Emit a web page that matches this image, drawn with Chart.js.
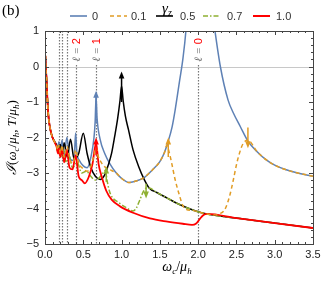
<!DOCTYPE html>
<html>
<head>
<meta charset="utf-8">
<script src="https://cdn.jsdelivr.net/npm/chart.js@4.4.0/dist/chart.umd.min.js"></script>
<style>
html, body { margin: 0; padding: 0; background: #fff; }
</style>
</head>
<body>
<canvas id="chart" width="325" height="285"></canvas>
<script>
// gamma_z series, legend order
const gammaLabels = ['0', '0.1', '0.5', '0.7', '1.0'];
const gammaColors = ['#5E81B5', '#E19C24', '#000000', '#8FB032', '#FF0000'];
const gammaDash = [[], [4, 3], [], [5, 2, 1.5, 2], []];
const drawOrder = [5, 1, 4, 3, 2];

// [omega_c/mu_h, I]
const curve0 = [[0.005,0.3],[0.01,0],[0.02,-0.35],[0.03,-0.85],[0.04,-1.25],[0.05,-1.5],[0.07,-1.78],[0.09,-1.95],[0.11,-2.05],[0.13,-2.12],[0.15,-2.2],
  [0.165,-2.3],[0.182,-2.12],[0.2,-2.4],[0.222,-2.08],[0.25,-2.5],[0.286,-2.0],[0.32,-2.55],[0.36,-2.65],[0.385,-2.45],[0.4,-1.87],[0.415,-2.4],
  [0.45,-2.65],[0.5,-2.8],[0.55,-2.85],[0.6,-2.55],[0.64,-2.0],[0.655,-1.55],[0.667,-0.85],[0.68,-1.45],[0.72,-2.05],[0.78,-2.45],[0.85,-2.75],
  [0.92,-2.97],[1.0,-3.15],[1.1,-3.27],[1.2,-3.22],[1.3,-3.12],[1.4,-2.92],[1.5,-2.68],[1.56,-2.42],[1.61,-2.1],[1.66,-1.7],[1.7,-1.22],
  [1.76,-0.37],[1.8,0.2],[1.84,1.0],[1.87,2.0],[2.16,2.0],[2.19,1.5],[2.22,1.0],[2.29,0],[2.39,-0.94],[2.46,-1.31],[2.55,-1.69],[2.65,-2.1],
  [2.77,-2.4],[2.89,-2.63],[3.0,-2.78],[3.15,-2.91],[3.3,-3.0],[3.5,-3.09]];
const curve01 = [[0.005,0.3],[0.01,0],[0.02,-0.35],[0.03,-0.85],[0.04,-1.25],[0.05,-1.5],[0.07,-1.78],[0.09,-1.95],[0.11,-2.06],[0.13,-2.14],[0.15,-2.22],
  [0.165,-2.35],[0.182,-2.22],[0.2,-2.45],[0.222,-2.22],[0.25,-2.55],[0.286,-2.25],[0.33,-2.65],[0.37,-2.72],[0.4,-2.35],[0.44,-2.72],[0.5,-2.88],
  [0.55,-2.95],[0.6,-2.8],[0.64,-2.5],[0.667,-2.28],[0.69,-2.5],[0.74,-2.72],[0.8,-2.86],[0.87,-2.93],[0.94,-3.02],[1.0,-3.15],[1.1,-3.27],
  [1.2,-3.22],[1.3,-3.12],[1.4,-2.92],[1.5,-2.68],[1.56,-2.42],[1.59,-2.22],[1.62,-2.4],[1.66,-2.78],[1.7,-3.19],[1.76,-3.66],[1.8,-3.92],
  [1.84,-4.02],[1.94,-4.06],[2.1,-4.15],[2.22,-4.18],[2.28,-4.15],[2.35,-4.02],[2.41,-3.66],[2.46,-3.19],[2.5,-2.77],[2.54,-2.44],[2.59,-2.16],
  [2.65,-2.08],[2.77,-2.4],[2.89,-2.63],[3.0,-2.78],[3.15,-2.91],[3.3,-3.0],[3.5,-3.09]];
const curve05 = [[0.005,0.3],[0.01,0],[0.02,-0.35],[0.03,-0.85],[0.04,-1.25],[0.05,-1.5],[0.07,-1.78],[0.09,-1.95],[0.11,-2.06],[0.13,-2.14],[0.15,-2.22],
  [0.17,-2.4],[0.2,-2.2],[0.225,-2.5],[0.25,-2.15],[0.29,-2.55],[0.333,-2.05],[0.38,-2.6],[0.44,-2.45],[0.5,-1.88],[0.55,-2.45],[0.6,-2.85],
  [0.66,-3.1],[0.72,-3.18],[0.78,-3.05],[0.83,-2.75],[0.87,-2.44],[0.91,-1.97],[0.95,-1.45],[0.98,-0.95],[1.0,-0.55],[1.02,-0.95],[1.05,-1.4],
  [1.09,-1.78],[1.15,-2.35],[1.22,-2.8],[1.3,-3.2],[1.36,-3.42],[1.46,-3.55],[1.59,-3.7],[1.75,-3.88],[1.94,-4.05],[2.1,-4.15],[2.5,-4.27],
  [3.0,-4.41],[3.5,-4.55]];
const curve07 = [[0.005,0.3],[0.01,0],[0.02,-0.35],[0.03,-0.85],[0.04,-1.25],[0.05,-1.5],[0.07,-1.78],[0.09,-1.95],[0.11,-2.06],[0.13,-2.15],[0.15,-2.24],
  [0.17,-2.42],[0.19,-2.3],[0.215,-2.55],[0.24,-2.38],[0.27,-2.68],[0.31,-2.5],[0.36,-2.85],[0.42,-2.7],[0.48,-3.0],[0.54,-2.95],[0.6,-3.1],
  [0.65,-3.2],[0.7,-3.15],[0.75,-3.02],[0.79,-2.92],[0.81,-3.2],[0.84,-3.5],[0.87,-3.66],[0.96,-3.83],[1.05,-3.96],[1.15,-4.07],[1.19,-4.0],
  [1.24,-3.75],[1.29,-3.5],[1.33,-3.42],[1.36,-3.42],[1.46,-3.55],[1.59,-3.7],[1.75,-3.88],[1.94,-4.05],[2.1,-4.15],[2.5,-4.27],[3.0,-4.41],
  [3.5,-4.55]];
const curve10 = [[0.005,0.3],[0.01,0],[0.02,-0.35],[0.03,-0.85],[0.04,-1.25],[0.05,-1.5],[0.07,-1.78],[0.09,-1.95],[0.11,-2.06],[0.13,-2.15],[0.15,-2.25],
  [0.17,-2.45],[0.182,-2.3],[0.2,-2.55],[0.222,-2.32],[0.25,-2.7],[0.286,-2.35],[0.32,-2.85],[0.36,-2.9],[0.4,-2.5],[0.44,-3.1],[0.48,-3.2],
  [0.52,-3.29],[0.57,-3.12],[0.62,-2.75],[0.667,-2.15],[0.7,-2.75],[0.74,-3.1],[0.8,-3.5],[0.87,-3.75],[0.98,-3.94],[1.15,-4.12],[1.37,-4.28],
  [1.6,-4.37],[1.8,-4.43],[1.92,-4.46],[1.97,-4.43],[2.02,-4.3],[2.07,-4.18],[2.12,-4.15],[2.5,-4.27],[3.0,-4.41],[3.5,-4.55]];
const curves = [curve0, curve01, curve05, curve07, curve10];

// vertical resonance lines (l = 0, 1, 2, ...)
const levelPos = [2.0, 0.667, 0.4, 0.286, 0.222, 0.182];
const levelLabel = ['0', '1', '2'];

// arrows: x, start y, tip y, series index
const arrowX = [0.667, 0.667, 1.0, 1.61, 2.65, 0.8, 1.32];
const arrowFrom = [-1.6, -2.5, -1.0, -2.55, -1.72, -3.25, -3.3];
const arrowTo = [-0.68, -2.0, -0.14, -2.0, -2.3, -2.82, -3.72];
const arrowSeries = [0, 4, 2, 1, 1, 3, 3];

const sans = "'Liberation Sans', Arial, sans-serif";
const serif = "'Liberation Serif', 'DejaVu Serif', serif";

function drawRich(ctx, parts, x, y) {
    // parts: [text, font, dy]; centred on x, baseline y
    let w = 0;
    parts.forEach(p => { ctx.font = p[1]; w += ctx.measureText(p[0]).width; });
    let cx = x - w / 2;
    ctx.textAlign = 'left';
    ctx.textBaseline = 'alphabetic';
    parts.forEach(p => {
        ctx.font = p[1];
        ctx.fillText(p[0], cx, y + p[2]);
        cx += ctx.measureText(p[0]).width;
    });
}

const decor = {
    id: 'decor',
    beforeDatasetsDraw(chart) {
        const ctx = chart.ctx, a = chart.chartArea;
        const xs = chart.scales.x, ys = chart.scales.y;
        ctx.save();
        // zero line
        const y0 = ys.getPixelForValue(0);
        ctx.strokeStyle = '#c8c8c8';
        ctx.lineWidth = 1;
        ctx.beginPath();
        ctx.moveTo(a.left, Math.round(y0) + 0.5);
        ctx.lineTo(a.right, Math.round(y0) + 0.5);
        ctx.stroke();
        // dotted level lines
        ctx.strokeStyle = '#777';
        ctx.lineWidth = 1.2;
        ctx.setLineDash([1.5, 1.5]);
        levelPos.forEach((v, i) => {
            const px = Math.round(xs.getPixelForValue(v)) + 0.5;
            const top = i < levelLabel.length ? a.top + 34 : a.top;
            ctx.beginPath();
            ctx.moveTo(px, top);
            ctx.lineTo(px, a.bottom);
            ctx.stroke();
        });
        ctx.setLineDash([]);
        // level labels, rotated
        levelLabel.forEach((t, i) => {
            const px = xs.getPixelForValue(levelPos[i]);
            ctx.save();
            ctx.translate(px + 4, a.top + 19);
            ctx.rotate(-Math.PI / 2);
            ctx.textBaseline = 'alphabetic';
            ctx.font = 'italic 11px ' + serif;
            const s1 = 'ℓ = ';
            ctx.font = '11px ' + sans;
            const w2 = ctx.measureText(t).width;
            ctx.font = 'italic 11px ' + serif;
            const w1 = ctx.measureText(s1).width;
            let x0 = -(w1 + w2) / 2;
            ctx.fillStyle = '#666';
            ctx.fillText(s1, x0, 0);
            ctx.fillStyle = '#FF0000';
            ctx.font = '11px ' + sans;
            ctx.fillText(t, x0 + w1, 0);
            ctx.restore();
        });
        ctx.restore();
    },
    afterDatasetsDraw(chart) {
        const ctx = chart.ctx;
        const xs = chart.scales.x, ys = chart.scales.y;
        ctx.save();
        arrowX.forEach((v, i) => {
            const px = xs.getPixelForValue(v);
            const p0 = ys.getPixelForValue(arrowFrom[i]);
            const p1 = ys.getPixelForValue(arrowTo[i]);
            const dir = p1 < p0 ? -1 : 1;
            const col = gammaColors[arrowSeries[i]];
            ctx.strokeStyle = col;
            ctx.fillStyle = col;
            ctx.lineWidth = 1.5;
            ctx.beginPath();
            ctx.moveTo(px, p0);
            ctx.lineTo(px, p1 - dir * 4);
            ctx.stroke();
            ctx.beginPath();
            ctx.moveTo(px, p1);
            ctx.lineTo(px - 2.8, p1 - dir * 7);
            ctx.lineTo(px + 2.8, p1 - dir * 7);
            ctx.closePath();
            ctx.fill();
        });
        ctx.restore();
    },
    afterDraw(chart) {
        const ctx = chart.ctx, a = chart.chartArea;
        const xs = chart.scales.x, ys = chart.scales.y;
        ctx.save();
        // frame with inward ticks
        ctx.strokeStyle = '#444';
        ctx.lineWidth = 1;
        ctx.strokeRect(Math.round(a.left) + 0.5, Math.round(a.top) + 0.5,
            Math.round(a.right - a.left), Math.round(a.bottom - a.top));
        ctx.beginPath();
        for (let k = 0; k <= 35; k++) {
            const px = Math.round(xs.getPixelForValue(k / 10)) + 0.5;
            const len = k % 5 === 0 ? 4 : 2;
            ctx.moveTo(px, a.bottom); ctx.lineTo(px, a.bottom - len);
            ctx.moveTo(px, a.top); ctx.lineTo(px, a.top + len);
        }
        for (let k = -25; k <= 5; k++) {
            const py = Math.round(ys.getPixelForValue(k / 5)) + 0.5;
            const len = k % 5 === 0 ? 4 : 2;
            ctx.moveTo(a.left, py); ctx.lineTo(a.left + len, py);
            ctx.moveTo(a.right, py); ctx.lineTo(a.right - len, py);
        }
        ctx.stroke();

        // panel tag
        ctx.fillStyle = '#000';
        ctx.font = '15px ' + serif;
        ctx.textAlign = 'left';
        ctx.textBaseline = 'alphabetic';
        ctx.fillText('(b)', 2, 15);

        // legend row
        const lineX = [70, 110, 156, 203, 253];
        const textX = [92, 131, 180, 227, 276];
        const ly = 16;
        gammaLabels.forEach((t, i) => {
            ctx.strokeStyle = gammaColors[i];
            ctx.lineWidth = i === 4 ? 2 : 1.6;
            ctx.setLineDash(gammaDash[i]);
            ctx.beginPath();
            ctx.moveTo(lineX[i], ly);
            ctx.lineTo(lineX[i] + 17, ly);
            ctx.stroke();
            ctx.setLineDash([]);
            ctx.fillStyle = '#333';
            ctx.font = '11px ' + sans;
            ctx.textBaseline = 'middle';
            ctx.fillText(t, textX[i], ly + 1);
        });
        ctx.fillStyle = '#000';
        drawRich(ctx, [['γ', 'italic 15px ' + serif, 0], ['z', 'italic 10px ' + serif, 3]], 167, 13);

        // axis titles
        drawRich(ctx, [['ω', 'italic 14px ' + serif, 0], ['c', 'italic 9px ' + serif, 3], ['/', '14px ' + serif, 0],
            ['μ', 'italic 14px ' + serif, 0], ['h', 'italic 9px ' + serif, 3]], (a.left + a.right) / 2 - 2, 271);
        ctx.save();
        ctx.translate(16, (a.top + a.bottom) / 2);
        ctx.rotate(-Math.PI / 2);
        drawRich(ctx, [['ℐ', 'italic 14px ' + serif, 0], ['(', '13px ' + serif, 0], ['ω', 'italic 13px ' + serif, 0],
            ['c', 'italic 9px ' + serif, 3], ['/', '13px ' + serif, 0], ['μ', 'italic 13px ' + serif, 0],
            ['h', 'italic 9px ' + serif, 3], [', ', '13px ' + serif, 0], ['T', 'italic 13px ' + serif, 0],
            ['/', '13px ' + serif, 0], ['μ', 'italic 13px ' + serif, 0], ['h', 'italic 9px ' + serif, 3],
            [')', '13px ' + serif, 0]], 0, 0);
        ctx.restore();
        ctx.restore();
    }
};

new Chart(document.getElementById('chart'), {
    type: 'line',
    data: {
        datasets: curves.map((pts, i) => ({
            label: gammaLabels[i],
            data: pts.map(p => ({ x: p[0], y: p[1] })),
            borderColor: gammaColors[i],
            borderWidth: i === 4 ? 1.8 : 1.5,
            borderDash: gammaDash[i],
            pointRadius: 0,
            fill: false,
            cubicInterpolationMode: 'monotone',
            order: drawOrder[i]
        }))
    },
    options: {
        responsive: false,
        animation: false,
        devicePixelRatio: 1,
        layout: { padding: { top: 31, right: 12, left: 0, bottom: 0 } },
        plugins: { legend: { display: false }, tooltip: { enabled: false } },
        scales: {
            x: {
                type: 'linear',
                min: 0, max: 3.5,
                grid: { display: false, drawTicks: false },
                border: { display: false },
                ticks: {
                    stepSize: 0.5, padding: 4, color: '#222',
                    font: { family: sans, size: 11 },
                    callback: v => v.toFixed(1)
                },
                afterFit: s => { s.height = 41; }
            },
            y: {
                min: -5, max: 1,
                grid: { display: false, drawTicks: false },
                border: { display: false },
                ticks: {
                    stepSize: 1, padding: 6, color: '#222',
                    font: { family: sans, size: 11 },
                    callback: v => v < 0 ? '−' + (-v) : String(v)
                },
                afterFit: s => { s.width = 45; }
            }
        }
    },
    plugins: [decor]
});
</script>
</body>
</html>
